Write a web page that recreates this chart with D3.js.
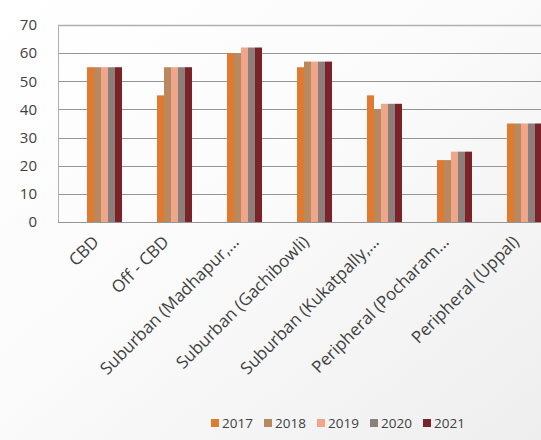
<!DOCTYPE html>
<html>
<head>
<meta charset="utf-8">
<script src="https://cdn.jsdelivr.net/npm/d3@7"></script>
<style>
  html, body { margin: 0; padding: 0; background: #fff; }
  svg { display: block; }
</style>
</head>
<body>
<svg id="chart" width="541" height="440"></svg>
<script>
// Office rental values by micro-market, 2017–2021
const categories = [
  "CBD",
  "Off - CBD",
  "Suburban (Madhapur,...",
  "Suburban (Gachibowli)",
  "Suburban (Kukatpally,...",
  "Peripheral (Pocharam...",
  "Peripheral (Uppal)"
];
const years = ["2017", "2018", "2019", "2020", "2021"];
const values2017 = [55, 45, 60, 55, 45, 22, 35];
const values2018 = [55, 55, 60, 57, 40, 22, 35];
const values2019 = [55, 55, 62, 57, 42, 25, 35];
const values2020 = [55, 55, 62, 57, 42, 25, 35];
const values2021 = [55, 55, 62, 57, 42, 25, 35];
const yTicks = [0, 10, 20, 30, 40, 50, 60, 70];
const colors = ["#E07A30", "#B8895F", "#F0A688", "#8C7F7B", "#7B2328"];

const seriesValues = [values2017, values2018, values2019, values2020, values2021];

const svg = d3.select("#chart");
const W = 541, H = 440;
const font = "'Open Sans', sans-serif";
const textColor = "#404040";

// soft background wash
const defs = svg.append("defs");
const grad = defs.append("linearGradient").attr("id", "bg")
  .attr("x1", "0").attr("y1", "0").attr("x2", "1").attr("y2", "1");
grad.append("stop").attr("offset", "0").attr("stop-color", "#ffffff");
grad.append("stop").attr("offset", "0.45").attr("stop-color", "#fbfbfb");
grad.append("stop").attr("offset", "1").attr("stop-color", "#eeeeee");
svg.append("rect").attr("width", W).attr("height", H).attr("fill", "url(#bg)");

const plotLeft = 58, plotTop = 25, plotBottom = 222;

const x = d3.scaleBand().domain(categories).range([69, 559]).padding(0);
const xInner = d3.scaleBand().domain(years).range([-17, 18]).padding(0);
const y = d3.scaleLinear().domain([0, 70]).range([plotBottom, plotTop]);

// gridlines
svg.append("g")
  .selectAll("line")
  .data(yTicks)
  .join("line")
  .attr("x1", plotLeft).attr("x2", W)
  .attr("y1", d => Math.round(y(d)) + 0.5)
  .attr("y2", d => Math.round(y(d)) + 0.5)
  .attr("stroke", d => d === 70 ? "#b0b0b0" : "#959595")
  .attr("stroke-width", d => d === 70 ? 1.6 : 1);

// left axis line
svg.append("line")
  .attr("x1", plotLeft + 0.5).attr("x2", plotLeft + 0.5)
  .attr("y1", plotTop).attr("y2", plotBottom)
  .attr("stroke", "#b0b0b0");

// y axis labels
const yAxis = d3.axisLeft(y).tickValues(yTicks).tickSize(0).tickPadding(0);
const gy = svg.append("g").attr("transform", "translate(37,0)").call(yAxis);
gy.select(".domain").remove();
gy.selectAll("text")
  .attr("font-family", font)
  .attr("font-size", 15)
  .attr("fill", textColor);

// bars
const rows = [];
categories.forEach((c, i) => {
  years.forEach((yr, j) => rows.push({ cat: c, year: yr, value: seriesValues[j][i], color: colors[j] }));
});
svg.append("g")
  .selectAll("rect")
  .data(rows)
  .join("rect")
  .attr("x", d => x(d.cat) + x.bandwidth() / 2 + xInner(d.year))
  .attr("width", xInner.bandwidth())
  .attr("y", d => y(d.value))
  .attr("height", d => plotBottom - y(d.value))
  .attr("fill", d => d.color);

// x axis category labels, rotated
const xAxis = d3.axisBottom(x).tickSize(0).tickPadding(0);
const gx = svg.append("g").attr("transform", `translate(0,${plotBottom})`).call(xAxis);
gx.select(".domain").remove();
gx.selectAll("text")
  .attr("font-family", font)
  .attr("font-size", 17)
  .attr("fill", textColor)
  .attr("text-anchor", "end")
  .attr("dy", 0)
  .attr("transform", "translate(-4,21) rotate(-45)");

// legend
const legend = svg.append("g").attr("transform", "translate(211,423)");
const item = legend.selectAll("g")
  .data(years)
  .join("g")
  .attr("transform", (d, i) => `translate(${i * 53},0)`);
item.append("rect")
  .attr("x", 0).attr("y", -4).attr("width", 8).attr("height", 8)
  .attr("fill", (d, i) => colors[i]);
item.append("text")
  .attr("x", 11).attr("y", 5)
  .attr("font-family", font)
  .attr("font-size", 13.5)
  .attr("fill", textColor)
  .text(d => d);
</script>
</body>
</html>
